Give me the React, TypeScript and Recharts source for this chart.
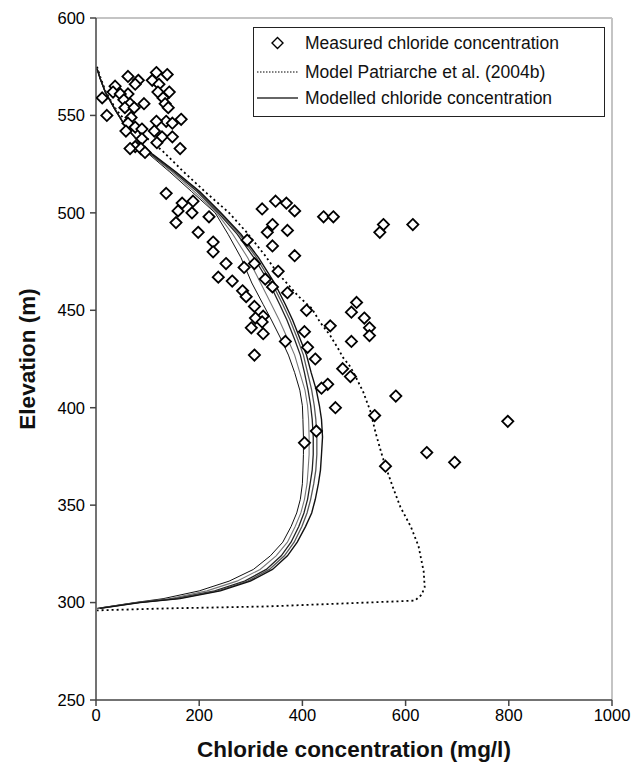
import { ComposedChart, Line, Scatter, XAxis, YAxis, ReferenceLine, Legend, Label } from 'recharts'

const FONT = '"Liberation Sans", Arial, sans-serif'

const X_TICKS = [0, 200, 400, 600, 800, 1000]
const Y_TICKS = [250, 300, 350, 400, 450, 500, 550, 600]

const LEGEND_LABELS = [
  'Measured chloride concentration',
  'Model Patriarche et al. (2004b)',
  'Modelled chloride concentration',
]

// measured chloride (mg/l), elevation (m)
const MEASURED: [number, number][] = [
  [117, 572], [138, 571], [62, 570], [82, 568], [109, 568], [122, 566], [76, 566], [37, 565],
  [33, 562], [120, 562], [142, 562], [62, 561], [47, 561], [12, 559], [130, 559], [54, 558],
  [93, 556], [66, 556], [134, 556], [140, 554], [56, 554], [74, 554], [21, 550], [68, 549],
  [165, 548], [136, 547], [117, 547], [148, 546], [62, 546], [76, 544], [89, 543], [58, 542],
  [113, 542], [128, 539], [148, 539], [89, 538], [118, 536], [76, 534], [66, 533], [87, 533],
  [95, 531], [163, 533],
  [136, 510], [167, 505], [188, 506], [159, 501], [186, 500], [155, 495], [219, 498], [198, 490],
  [227, 485], [227, 480], [293, 486], [252, 474], [287, 472], [307, 474], [237, 467], [264, 465],
  [284, 460], [291, 457], [328, 466], [342, 462], [353, 470], [371, 459], [322, 502], [348, 506],
  [369, 505], [385, 501], [342, 494], [332, 490], [371, 491], [342, 483], [385, 478], [408, 450],
  [441, 498], [460, 498], [557, 494], [550, 490], [614, 494],
  [307, 452], [324, 447], [309, 446], [322, 444], [301, 441], [324, 438], [367, 434], [307, 427],
  [505, 454], [495, 449], [520, 446], [530, 441], [530, 437], [495, 434], [454, 442], [404, 439],
  [410, 431], [425, 425], [478, 420], [493, 416], [449, 412], [437, 410], [464, 400], [540, 396],
  [581, 406], [427, 388], [404, 382], [641, 377], [695, 372], [561, 370], [798, 393],
]

const PATRIARCHE: [number, number][] = [
  [2, 575], [8, 570], [19, 562], [39, 553], [64, 545], [100, 538], [128, 532], [170, 521],
  [215, 510], [258, 500], [292, 490], [328, 478], [352, 469], [366, 465], [393, 457], [418, 451],
  [434, 444], [454, 437], [470, 430], [478, 426], [493, 421], [503, 416], [518, 408], [532, 398],
  [542, 387], [555, 375], [565, 367], [577, 358], [590, 349], [610, 339], [625, 329], [635, 316],
  [637, 308], [631, 304], [618, 301], [524, 300], [330, 298], [136, 297], [2, 296],
]

// modelled curves, left (A) to right (E)
const MODEL_A: [number, number][] = [
  [2, 574], [8, 569], [18, 562], [37, 553], [58, 544], [83, 536], [103, 530], [143, 521],
  [185, 511], [231, 500], [256, 489], [281, 477], [302, 464], [324, 453], [340, 445], [359, 435],
  [373, 427], [385, 418], [395, 409], [400, 401], [401, 394], [402, 385], [402, 376], [401, 368],
  [400, 361], [396, 353], [389, 346], [378, 339], [362, 331], [338, 324], [305, 317], [258, 311],
  [200, 306], [130, 302], [75, 300], [2, 297],
]

const MODEL_B: [number, number][] = [
  [2, 574], [8, 569], [18, 562], [37, 553], [58, 544], [84, 536], [105, 530], [147, 521],
  [190, 511], [234, 500], [265, 489], [294, 477], [319, 464], [340, 453], [355, 445], [372, 435],
  [385, 427], [395, 418], [405, 409], [410, 401], [412, 394], [413, 385], [413, 376], [411, 368],
  [409, 361], [404, 353], [397, 346], [386, 339], [371, 331], [349, 324], [318, 317], [273, 311],
  [215, 306], [142, 302], [78, 300], [3, 297],
]

const MODEL_C: [number, number][] = [
  [2, 574], [8, 569], [18, 562], [37, 553], [58, 544], [84, 536], [107, 530], [151, 521],
  [196, 511], [237, 500], [274, 489], [306, 477], [336, 464], [356, 453], [370, 445], [385, 435],
  [396, 427], [404, 418], [411, 409], [416, 401], [419, 394], [421, 385], [421, 376], [419, 368],
  [415, 361], [410, 353], [403, 346], [393, 339], [378, 331], [359, 324], [330, 317], [288, 311],
  [230, 306], [153, 302], [80, 300], [5, 297],
]

const MODEL_D: [number, number][] = [
  [2, 574], [8, 569], [18, 562], [37, 553], [58, 544], [85, 536], [109, 530], [153, 521],
  [199, 511], [240, 500], [278, 489], [311, 477], [341, 464], [362, 453], [376, 445], [391, 435],
  [402, 427], [410, 418], [418, 409], [423, 401], [426, 394], [428, 385], [428, 376], [426, 368],
  [422, 361], [416, 353], [409, 346], [399, 339], [384, 331], [365, 324], [336, 317], [294, 311],
  [236, 306], [158, 302], [82, 300], [6, 297],
]

const MODEL_E: [number, number][] = [
  [2, 574], [8, 569], [18, 562], [37, 553], [58, 544], [85, 536], [110, 530], [155, 521],
  [201, 511], [242, 500], [281, 489], [315, 477], [346, 464], [367, 453], [381, 445], [396, 435],
  [408, 427], [417, 418], [427, 409], [433, 401], [437, 394], [439, 385], [437, 376], [435, 368],
  [431, 361], [425, 353], [418, 346], [406, 339], [390, 331], [371, 324], [342, 317], [299, 311],
  [241, 306], [163, 302], [85, 300], [8, 297],
]

const toPts = (arr: [number, number][]) => arr.map(([x, y]) => ({ x, y }))

const MODELS = [
  { id: 'a', data: MODEL_A, color: '#111', w: 1 },
  { id: 'b', data: MODEL_B, color: '#777', w: 1.1 },
  { id: 'c', data: MODEL_C, color: '#222', w: 1.3 },
  { id: 'd', data: MODEL_D, color: '#555', w: 1.3 },
  { id: 'e', data: MODEL_E, color: '#111', w: 1.4 },
]

function Diamond(props: any) {
  const { cx, cy } = props
  if (cx == null || cy == null) return null
  const r = 5.6
  return (
    <polygon
      points={`${cx},${cy - r} ${cx + r},${cy} ${cx},${cy + r} ${cx - r},${cy}`}
      fill="#fff" stroke="#000" strokeWidth={1.8}
    />
  )
}

function LegendBox() {
  const row = (top: number): React.CSSProperties => ({ position: 'absolute', left: 0, top: top - 12, height: 24, width: '100%' })
  const text: React.CSSProperties = { position: 'absolute', left: 51, top: 0, lineHeight: '24px', whiteSpace: 'nowrap' }
  return (
    <div style={{ position: 'relative', width: 350, height: 88, border: '1px solid #222', background: '#fff', fontFamily: FONT, fontSize: 17.5, color: '#111' }}>
      <div style={row(15)}>
        <svg width={48} height={24} style={{ position: 'absolute', left: 0, top: 0 }}>
          <polygon points="23.5,6.5 29,12 23.5,17.5 18,12" fill="#fff" stroke="#000" strokeWidth={1.4} />
        </svg>
        <span style={text}>{LEGEND_LABELS[0]}</span>
      </div>
      <div style={row(43.5)}>
        <svg width={48} height={24} style={{ position: 'absolute', left: 0, top: 0 }}>
          <line x1={3} y1={12} x2={44} y2={12} stroke="#000" strokeWidth={1} strokeDasharray="1.5 1.5" />
        </svg>
        <span style={text}>{LEGEND_LABELS[1]}</span>
      </div>
      <div style={row(70)}>
        <svg width={48} height={24} style={{ position: 'absolute', left: 0, top: 0 }}>
          <line x1={3} y1={12} x2={44} y2={12} stroke="#333" strokeWidth={1.3} />
        </svg>
        <span style={text}>{LEGEND_LABELS[2]}</span>
      </div>
    </div>
  )
}

const TICK = { fill: '#000', fontSize: 16.5, fontFamily: FONT }

export default function App() {
  return (
    <div style={{ position: 'absolute', left: 0, top: 0, background: '#fff' }}>
      <ComposedChart width={644} height={764} margin={{ top: 18, right: 32, bottom: 4, left: 10 }}>
        <XAxis
          type="number" dataKey="x" domain={[0, 1000]} ticks={X_TICKS} allowDataOverflow
          height={60} tick={TICK} tickSize={6} tickMargin={3}
          axisLine={{ stroke: '#444', strokeWidth: 1.5 }} tickLine={{ stroke: '#444', strokeWidth: 1.5 }}
        >
          <Label
            content={({ viewBox }: any) => (
              <text x={viewBox.x + viewBox.width / 2} y={757} textAnchor="middle" fontFamily={FONT} fontSize={22.5} fontWeight={700} fill="#111">
                Chloride concentration (mg/l)
              </text>
            )}
          />
        </XAxis>
        <YAxis
          type="number" dataKey="y" domain={[250, 600]} ticks={Y_TICKS} allowDataOverflow
          width={86} tick={TICK} tickSize={6} tickMargin={5}
          axisLine={{ stroke: '#444', strokeWidth: 1.5 }} tickLine={{ stroke: '#444', strokeWidth: 1.5 }}
        >
          <Label
            content={({ viewBox }: any) => {
              const cx = 27
              const cy = viewBox.y + viewBox.height / 2
              return (
                <text x={cx} y={cy} transform={`rotate(-90 ${cx} ${cy})`} textAnchor="middle" dominantBaseline="central" fontFamily={FONT} fontSize={22.5} fontWeight={700} fill="#111">
                  Elevation (m)
                </text>
              )
            }}
          />
        </YAxis>
        <ReferenceLine y={600} stroke="#c4c4c4" strokeWidth={2} />
        <ReferenceLine x={1000} stroke="#c4c4c4" strokeWidth={2} />

        <Line
          data={toPts(PATRIARCHE)} dataKey="y" type="linear" stroke="#000" strokeWidth={1.8}
          strokeDasharray="2 3" dot={false} legendType="none" isAnimationActive={false}
        />
        {MODELS.map(m => (
          <Line
            key={m.id} data={toPts(m.data)} dataKey="y" type="linear" stroke={m.color} strokeWidth={m.w}
            dot={false} legendType="none" isAnimationActive={false}
          />
        ))}
        <Scatter data={toPts(MEASURED)} dataKey="y" shape={Diamond} legendType="none" isAnimationActive={false} />

        <Legend
          layout="vertical" align="center" verticalAlign="middle"
          content={() => <LegendBox />}
          wrapperStyle={{ left: 253, top: 27, width: 352, height: 90 }}
        />
      </ComposedChart>
    </div>
  )
}
